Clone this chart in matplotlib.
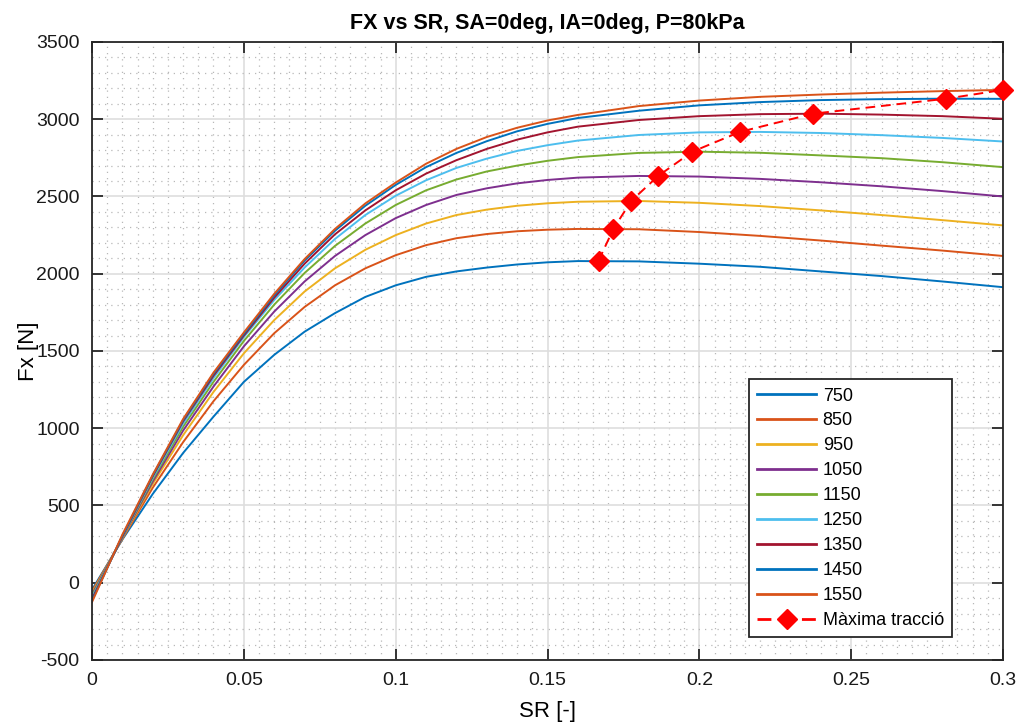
import numpy as np
import matplotlib.pyplot as plt
from matplotlib.ticker import MultipleLocator

plt.rcParams['font.family'] = ['Liberation Sans', 'DejaVu Sans']
plt.rcParams['axes.unicode_minus'] = False

# slip ratio samples shared by all load curves
sr = [0.0, 0.01, 0.02, 0.03, 0.04, 0.05, 0.06, 0.07, 0.08, 0.09, 0.10,
      0.11, 0.12, 0.13, 0.14, 0.15, 0.16, 0.18, 0.20, 0.22, 0.24, 0.26,
      0.28, 0.30]

loads = ['750', '850', '950', '1050', '1150', '1250', '1350', '1450', '1550']

fx_750 = [-45, 280, 575, 840, 1075, 1300, 1475, 1625, 1745, 1850, 1925,
          1980, 2015, 2040, 2060, 2074, 2082, 2080, 2065, 2045, 2015, 1985,
          1950, 1913]
fx_850 = [-55, 284, 615, 910, 1175, 1410, 1615, 1785, 1925, 2035, 2120,
          2185, 2230, 2257, 2275, 2285, 2290, 2288, 2270, 2245, 2215, 2182,
          2150, 2115]
fx_950 = [-65, 288, 640, 955, 1235, 1485, 1700, 1885, 2035, 2155, 2250,
          2325, 2380, 2415, 2440, 2456, 2466, 2471, 2459, 2438, 2410, 2380,
          2347, 2313]
fx_1050 = [-75, 292, 655, 985, 1270, 1530, 1755, 1950, 2115, 2250, 2360,
           2445, 2510, 2553, 2585, 2607, 2622, 2633, 2629, 2614, 2592, 2566,
           2535, 2500]
fx_1150 = [-85, 295, 670, 1010, 1300, 1565, 1800, 2005, 2180, 2325, 2445,
           2540, 2610, 2662, 2700, 2731, 2755, 2782, 2790, 2783, 2766, 2748,
           2722, 2690]
fx_1250 = [-95, 298, 680, 1030, 1325, 1590, 1830, 2040, 2225, 2380, 2505,
           2605, 2685, 2745, 2795, 2832, 2862, 2898, 2915, 2918, 2911, 2897,
           2879, 2856]
fx_1350 = [-105, 300, 690, 1045, 1340, 1600, 1845, 2065, 2255, 2410, 2540,
           2648, 2735, 2808, 2868, 2915, 2952, 2995, 3020, 3033, 3036, 3030,
           3020, 3003]
fx_1450 = [-115, 305, 695, 1052, 1352, 1610, 1860, 2085, 2278, 2440, 2575,
           2690, 2782, 2858, 2922, 2970, 3008, 3055, 3090, 3111, 3124, 3130,
           3133, 3132]
fx_1550 = [-125, 312, 700, 1060, 1360, 1620, 1870, 2095, 2290, 2455, 2590,
           2712, 2808, 2885, 2945, 2992, 3028, 3085, 3121, 3145, 3160, 3172,
           3182, 3190]

# peak traction point of every curve
peak_sr = [0.1668, 0.1717, 0.1776, 0.1865, 0.1977, 0.2135, 0.2375, 0.2813, 0.30]
peak_fx = [2084, 2291, 2472, 2634, 2790, 2919, 3036, 3133, 3190]

curves = [fx_750, fx_850, fx_950, fx_1050, fx_1150, fx_1250, fx_1350, fx_1450, fx_1550]

colors = ['#0072BD', '#D95319', '#EDB120', '#7E2F8E', '#77AC30',
          '#4DBEEE', '#A2142F', '#0072BD', '#D95319']

fig = plt.figure(figsize=(10.18, 7.24), dpi=100)
ax = fig.add_axes([0.0904, 0.0884, 0.8949, 0.8536])

for fx, lab, c in zip(curves, loads, colors):
    ax.plot(sr, fx, color=c, lw=1.4, label=lab)
ax.plot(peak_sr, peak_fx, color='red', ls=(0, (5, 3)), marker='D', ms=10,
        lw=1.4, label='Màxima tracció', clip_on=False, zorder=5)

ax.set_xlim(0, 0.3)
ax.set_ylim(-500, 3500)
ax.set_xticks([0, 0.05, 0.1, 0.15, 0.2, 0.25, 0.3])
ax.set_xticklabels(['0', '0.05', '0.1', '0.15', '0.2', '0.25', '0.3'])
ax.xaxis.set_minor_locator(MultipleLocator(0.005))
ax.yaxis.set_major_locator(MultipleLocator(500))
ax.yaxis.set_minor_locator(MultipleLocator(100))

ax.grid(which='major', color='#dedede', lw=1.2)
ax.grid(which='minor', color='#b8b8b8', lw=0.9, ls=(0, (1, 4)))
ax.set_axisbelow(True)

ax.tick_params(which='major', direction='in', length=8, width=1.3,
               top=True, right=True, labelsize=14, colors='#262626',
               labelcolor='#1a1a1a', pad=9)
ax.tick_params(which='minor', length=0)
for s in ax.spines.values():
    s.set_color('#262626')
    s.set_linewidth(1.3)

ax.set_title('FX vs SR, SA=0deg, IA=0deg, P=80kPa', fontsize=15.5,
             fontweight='bold', pad=9)
ax.set_xlabel('SR [-]', fontsize=16, labelpad=8)
ax.set_ylabel('Fx [N]', fontsize=16, labelpad=-2)

leg = ax.legend(loc='lower right', bbox_to_anchor=(0.944, 0.037),
                fontsize=13, handlelength=3.3, labelspacing=0.44,
                handletextpad=0.35, borderpad=0.45, fancybox=False,
                framealpha=1, edgecolor='#262626', borderaxespad=0)
leg.get_frame().set_linewidth(1.3)
for h in leg.get_lines():
    h.set_linewidth(2.0)

fig.savefig('out.png', dpi=100)
